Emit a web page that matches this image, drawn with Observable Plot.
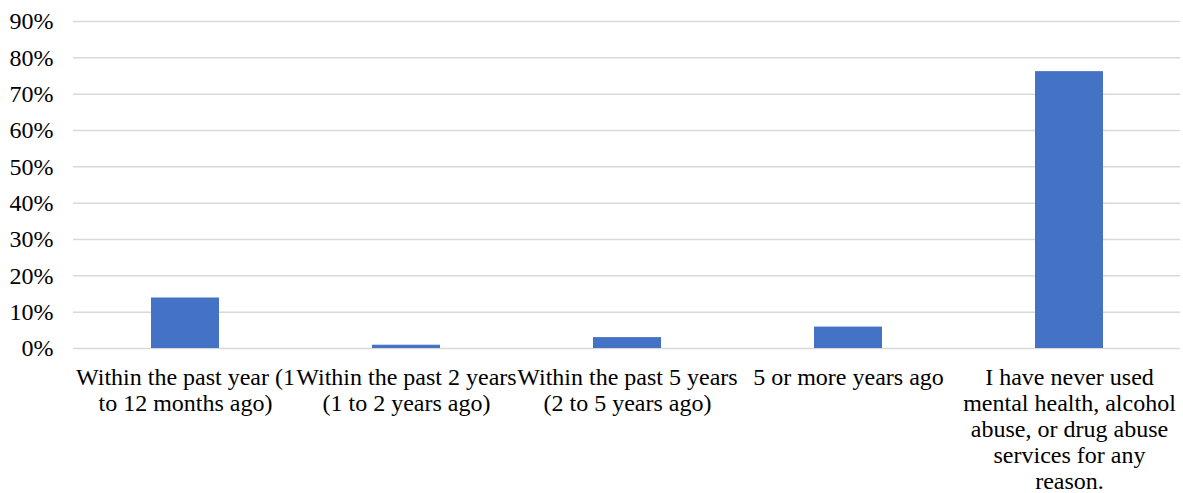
<!DOCTYPE html>
<html>
<head>
<meta charset="utf-8">
<script src="https://cdn.jsdelivr.net/npm/d3@7"></script>
<script src="https://cdn.jsdelivr.net/npm/@observablehq/plot@0.6"></script>
<style>
  html, body { margin: 0; padding: 0; background: #fff; }
  #chart svg { display: block; }
  #chart svg, #chart svg text, #chart svg g { font-family: "Liberation Serif", "Times New Roman", serif !important; }
</style>
</head>
<body>
<div id="chart"></div>
<script>
const categories = [
  "Within the past year (1 to 12 months ago)",
  "Within the past 2 years (1 to 2 years ago)",
  "Within the past 5 years (2 to 5 years ago)",
  "5 or more years ago",
  "I have never used mental health, alcohol abuse, or drug abuse services for any reason."
];
const tickLabels = [
  "Within the past year (1\nto 12 months ago)",
  "Within the past 2 years\n(1 to 2 years ago)",
  "Within the past 5 years\n(2 to 5 years ago)",
  "5 or more years ago",
  "I have never used\nmental health, alcohol\nabuse, or drug abuse\nservices for any\nreason."
];
const values = [0.139, 0.009, 0.030, 0.059, 0.762];
const yTicks = [0, 0.1, 0.2, 0.3, 0.4, 0.5, 0.6, 0.7, 0.8, 0.9];

const data = categories.map((c, i) => ({category: c, value: values[i]}));
const labelOf = new Map(categories.map((c, i) => [c, tickLabels[i]]));

const chart = Plot.plot({
  width: 1183,
  height: 493,
  marginLeft: 73,
  marginRight: 3,
  marginTop: 21,
  marginBottom: 145,
  style: {fontSize: "24px", color: "#000", background: "#fff"},
  x: {domain: categories, paddingInner: 0.693, paddingOuter: 0.3465, label: null},
  y: {domain: [0, 0.9], label: null},
  marks: [
    Plot.ruleY(yTicks, {stroke: "#d9d9d9", strokeWidth: 1.5}),
    Plot.barY(data, {x: "category", y: "value", fill: "#4472C4"}),
    Plot.axisY({ticks: yTicks, tickFormat: d3.format(".0%"), tickSize: 0, tickPadding: 20, label: null, fontSize: 24, fill: "#000"}),
    Plot.axisX({tickFormat: d => labelOf.get(d), tickSize: 0, tickPadding: 18, label: null, fontSize: 24, lineHeight: 1.08, fill: "#000"})
  ]
});
document.getElementById("chart").appendChild(chart);
</script>
</body>
</html>
